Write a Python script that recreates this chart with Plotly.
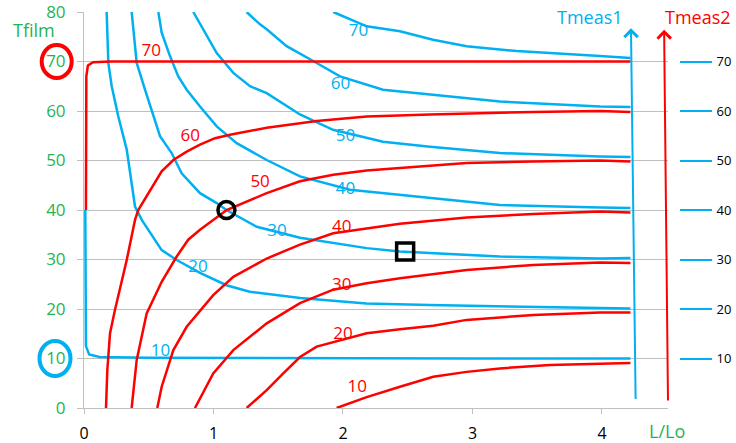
import plotly.graph_objects as go

# ---------------- data ----------------
BLUE = "#00b0f0"
RED = "#ff0000"
GREEN = "#1fb356"
GRID = "#bfbfbf"

# Tmeas1 (blue) iso-lines
blue10_x = [0.01, 0.01, 0.015, 0.04, 0.12, 0.5, 1.0, 2.0, 3.0, 4.22]
blue10_y = [40, 20, 12.5, 10.8, 10.3, 10.15, 10.1, 10.05, 10.0, 10.0]
blue20_x = [0.175, 0.188, 0.214, 0.265, 0.33, 0.394, 0.446, 0.561, 0.60, 0.716, 0.896, 1.10, 1.28, 1.67, 2.18, 2.67, 3.21, 3.98, 4.22]
blue20_y = [80, 69.7, 65.0, 58.9, 52.2, 40.7, 38.0, 33.3, 31.9, 29.9, 27.3, 24.8, 23.5, 22.2, 21.1, 20.8, 20.6, 20.3, 20.1]
blue30_x = [0.368, 0.407, 0.471, 0.548, 0.587, 0.677, 0.754, 0.896, 1.025, 1.10, 1.334, 1.668, 1.923, 2.183, 2.44, 2.695, 3.212, 3.985, 4.22]
blue30_y = [80, 69.7, 64.3, 58.2, 54.9, 51.5, 47.4, 43.4, 41.4, 40.0, 36.6, 34.4, 33.3, 32.3, 31.6, 31.3, 30.6, 30.2, 30.3]
blue40_x = [0.574, 0.60, 0.664, 0.728, 0.793, 0.896, 1.025, 1.179, 1.411, 1.668, 2.054, 2.672, 3.212, 3.985, 4.22]
blue40_y = [80, 75.8, 71.1, 67.0, 64.3, 60.9, 56.9, 53.5, 50.1, 46.8, 44.1, 42.4, 41.0, 40.5, 40.4]
blue50_x = [0.844, 0.947, 1.025, 1.153, 1.282, 1.411, 1.668, 1.923, 2.309, 2.672, 3.212, 3.985, 4.22]
blue50_y = [80, 75.1, 71.7, 67.7, 65.0, 63.6, 59.3, 56.2, 53.8, 52.8, 51.5, 50.8, 50.7]
blue60_x = [1.256, 1.359, 1.411, 1.565, 1.797, 1.977, 2.309, 2.672, 2.826, 3.212, 3.985, 4.22]
blue60_y = [80, 77.5, 76.5, 73.1, 69.7, 67.0, 64.3, 63.3, 62.9, 61.9, 60.9, 60.8]
blue70_x = [1.925, 2.183, 2.44, 2.695, 2.955, 3.341, 3.985, 4.22]
blue70_y = [80, 77.1, 76.1, 74.4, 73.1, 72.1, 71.1, 70.7]

# Tmeas2 (red) iso-lines
red10_x = [1.951, 2.183, 2.44, 2.697, 2.955, 3.212, 3.598, 3.985, 4.22]
red10_y = [0, 2.2, 4.3, 6.3, 7.3, 8.0, 8.7, 9.0, 9.1]
red20_x = [1.256, 1.411, 1.539, 1.668, 1.797, 2.183, 2.44, 2.697, 2.955, 3.47, 3.985, 4.22]
red20_y = [0, 3.6, 7.0, 10.3, 12.4, 15.1, 15.9, 16.6, 17.8, 18.8, 19.3, 19.3]
red30_x = [0.857, 0.998, 1.153, 1.282, 1.411, 1.668, 1.925, 2.183, 2.44, 2.955, 3.47, 3.985, 4.22]
red30_y = [0, 7.0, 11.7, 14.4, 17.1, 21.2, 23.9, 25.2, 26.2, 27.9, 28.9, 29.4, 29.3]
red40_x = [0.566, 0.600, 0.690, 0.793, 0.998, 1.153, 1.411, 1.668, 1.925, 2.183, 2.44, 2.955, 3.47, 3.985, 4.22]
red40_y = [0, 4.3, 11.7, 16.4, 22.8, 26.5, 30.2, 33.0, 35.3, 36.3, 37.2, 38.5, 39.2, 39.7, 39.5]
red50_x = [0.368, 0.407, 0.484, 0.600, 0.716, 0.805, 0.896, 1.01, 1.102, 1.411, 1.668, 1.925, 2.183, 2.44, 2.955, 3.467, 3.985, 4.22]
red50_y = [0, 9.7, 19.1, 25.5, 30.6, 34.0, 36.0, 38.3, 40.0, 43.4, 45.8, 47.1, 48.0, 48.5, 49.5, 49.8, 50.0, 49.8]
red60_x = [0.170, 0.180, 0.201, 0.239, 0.330, 0.394, 0.419, 0.497, 0.561, 0.600, 0.690, 0.793, 0.896, 1.012, 1.127, 1.411, 1.797, 2.183, 2.672, 2.955, 3.467, 3.985, 4.22]
red60_y = [0, 7.6, 15.1, 19.8, 29.9, 38.0, 40.0, 43.4, 46.1, 47.8, 50.1, 51.8, 53.2, 54.5, 55.2, 56.6, 58.0, 58.9, 59.3, 59.5, 59.8, 60.0, 59.8]
red70_x = [0.015, 0.015, 0.018, 0.03, 0.07, 0.2, 1.0, 2.0, 3.0, 4.22]
red70_y = [40, 60, 67, 69.2, 69.85, 70, 70, 70, 70, 70]

blue_label_text = ["10", "20", "30", "40", "50", "60", "70"]
blue_label_x = [0.59, 0.88, 1.49, 2.02, 2.02, 1.98, 2.12]
blue_label_y = [11.3, 28.3, 35.7, 44.1, 54.7, 65.4, 76.1]
red_label_text = ["10", "20", "30", "40", "50", "60", "70"]
red_label_x = [2.11, 2.0, 1.99, 1.99, 1.36, 0.82, 0.52]
red_label_y = [4.0, 14.7, 24.7, 36.4, 45.5, 54.9, 72.0]

circle_pt_x = [1.10]
circle_pt_y = [40.0]
square_pt_x = [2.48]
square_pt_y = [31.6]

left_ticks = [0, 10, 20, 30, 40, 50, 60, 70, 80]
right_ticks = [10, 20, 30, 40, 50, 60, 70]
x_ticks = [0, 1, 2, 3, 4]
X_MAX = 4.51
Y_MAX = 80

# arrows (data coords): (tail_x, tail_y, tip_x, tip_y)
blue_arrow = (4.26, 1.5, 4.224, 76.7)
red_arrow = (4.51, 1.2, 4.48, 76.4)

FONT = "Open Sans"

blue_lines = [(blue10_x, blue10_y), (blue20_x, blue20_y), (blue30_x, blue30_y),
              (blue40_x, blue40_y), (blue50_x, blue50_y), (blue60_x, blue60_y),
              (blue70_x, blue70_y)]
red_lines = [(red10_x, red10_y), (red20_x, red20_y), (red30_x, red30_y),
             (red40_x, red40_y), (red50_x, red50_y), (red60_x, red60_y),
             (red70_x, red70_y)]

fig = go.Figure()
for xs, ys in blue_lines:
    fig.add_trace(go.Scatter(x=xs, y=ys, mode="lines",
                             line=dict(color=BLUE, width=2.5), showlegend=False, hoverinfo="skip"))
for xs, ys in red_lines:
    fig.add_trace(go.Scatter(x=xs, y=ys, mode="lines",
                             line=dict(color=RED, width=2.5), showlegend=False, hoverinfo="skip"))

fig.add_trace(go.Scatter(x=blue_label_x, y=blue_label_y, text=blue_label_text, mode="text",
                         textfont=dict(color=BLUE, size=17, family=FONT), showlegend=False))
fig.add_trace(go.Scatter(x=red_label_x, y=red_label_y, text=red_label_text, mode="text",
                         textfont=dict(color=RED, size=17, family=FONT), showlegend=False))

fig.add_trace(go.Scatter(x=circle_pt_x, y=circle_pt_y, mode="markers",
                         marker=dict(symbol="circle-open", size=17, color="black",
                                     line=dict(width=3.5, color="black")), showlegend=False))
fig.add_trace(go.Scatter(x=square_pt_x, y=square_pt_y, mode="markers",
                         marker=dict(symbol="square-open", size=17, color="black",
                                     line=dict(width=3.5, color="black")), showlegend=False))

# dummy trace for right axis
fig.add_trace(go.Scatter(x=[None], y=[None], yaxis="y2", showlegend=False, hoverinfo="skip"))

L, R, T, B = 84, 57, 12, 35
W, H = 736, 443
plot_right_px = 668
x_dom_end = (plot_right_px - L) / (W - L - R)

fig.update_layout(
    width=W, height=H,
    margin=dict(l=L, r=R, t=T, b=B, autoexpand=False),
    paper_bgcolor="white", plot_bgcolor="white",
    font=dict(family=FONT),
    xaxis=dict(domain=[0, x_dom_end], range=[0, X_MAX], tickvals=x_ticks,
               ticks="outside", ticklen=5, tickcolor=GRID, showline=True, linecolor=GRID,
               linewidth=1, showgrid=False, zeroline=False, automargin=False,
               ticklabeloverflow="allow",
               tickfont=dict(color="black", size=16, family=FONT), ticklabelstandoff=6),
    yaxis=dict(range=[0, Y_MAX], tickvals=left_ticks, ticks="outside", ticklen=6,
               tickcolor=GRID, showline=True, linecolor=GRID, showgrid=True, gridcolor=GRID,
               gridwidth=1, zeroline=False, automargin=False, ticklabeloverflow="allow",
               tickfont=dict(color=GREEN, size=17, family=FONT), ticklabelstandoff=8),
    yaxis2=dict(range=[0, Y_MAX], overlaying="y", side="right", anchor="free", position=1,
                tickvals=right_ticks, ticks="outside", ticklen=32, tickcolor=BLUE, tickwidth=2,
                showline=False, showgrid=False, zeroline=False, automargin=False,
                ticklabeloverflow="allow",
                tickfont=dict(color="black", size=13, family=FONT), ticklabelstandoff=2),
)

# arrows
for (tx, ty, hx, hy), col in [(blue_arrow, BLUE), (red_arrow, RED)]:
    fig.add_annotation(x=hx, y=hy, ax=tx, ay=ty, xref="x", yref="y", axref="x", ayref="y",
                       showarrow=True, arrowhead=4, arrowsize=1.3, arrowwidth=2,
                       arrowcolor=col, text="")

# titles
for txt, px_, py_, col in [("Tfilm", -0.084, 0.955, GREEN), ("Tmeas1", 0.850, 0.987, BLUE),
                          ("Tmeas2", 1.032, 0.987, RED), ("L/Lo", 0.98, -0.057, GREEN)]:
    fig.add_annotation(text=txt, x=px_, y=py_, xref="paper", yref="paper",
                       xanchor="center", yanchor="middle",
                       showarrow=False, font=dict(color=col, size=18, family=FONT))

# highlight circles around tick labels 70 (red) and 10 (blue)
for val, col, rx, ry, cx in [(70, RED, 15, 16.5, -27.3), (10, BLUE, 15.5, 17.5, -29)]:
    fig.add_shape(type="circle", xref="paper", yref="paper",
                  xsizemode="pixel", ysizemode="pixel", xanchor=0, yanchor=val / Y_MAX,
                  x0=cx - rx, x1=cx + rx, y0=-ry, y1=ry,
                  line=dict(color=col, width=4))

fig.write_html("out.html", config={"displayModeBar": False},
               post_script="document.body.style.margin='0';")
